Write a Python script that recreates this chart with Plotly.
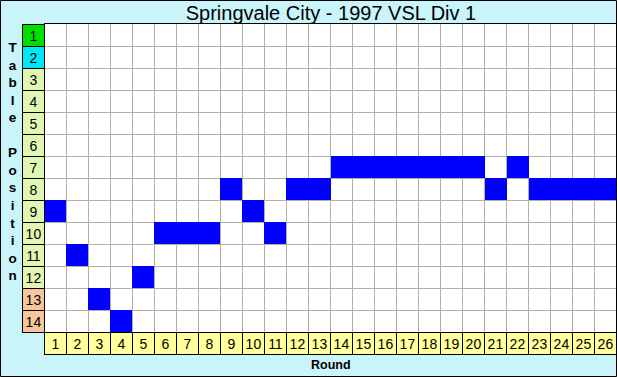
import numpy as np
import plotly.graph_objects as go

# ---- data ----
rounds = list(range(1, 27))
positions = [9, 11, 13, 14, 12, 10, 10, 10, 8, 9, 10, 8, 8, 7, 7, 7, 7, 7, 7, 7, 8, 7, 8, 8, 8, 8]
table_positions = list(range(1, 15))
position_colors = ["#00e000", "#00e8f8"] + ["#e2f6b4"] * 10 + ["#f8c49a"] * 2
round_label_color = "#ffff9c"
title_text = "Springvale City - 1997 VSL Div 1"
y_title = "Table Position"
x_title = "Round"

W, H = 617, 377
ML, MR, MT, MB = 44, 0, 24, 45
PW, PH = W - ML - MR, H - MT - MB
BG = "#c8f4fa"
FONT = "Arial, Liberation Sans, sans-serif"

# matrix of occupied cells
z = np.full((len(table_positions), len(rounds)), np.nan)
for ci, p in enumerate(positions):
    z[table_positions.index(p), ci] = 1

fig = go.Figure()
fig.add_trace(go.Heatmap(
    x=rounds, y=table_positions, z=z,
    colorscale=[[0, "#0000ff"], [1, "#0000ff"]],
    showscale=False, hoverinfo="skip",
))

annotations = []
for p, col in zip(table_positions, position_colors):
    annotations.append(dict(
        xref="paper", yref="y", x=-11 / PW, y=p,
        xanchor="center", yanchor="middle",
        text=str(p), showarrow=False,
        font=dict(family=FONT, size=14, color="black"),
        bgcolor=col, bordercolor="black", borderwidth=1, borderpad=0,
        width=21, height=21,
    ))
for r in rounds:
    annotations.append(dict(
        xref="x", yref="paper", x=r, y=-11 / PH,
        xanchor="center", yanchor="middle",
        text=str(r), showarrow=False,
        font=dict(family=FONT, size=14, color="black"),
        bgcolor=round_label_color, bordercolor="black", borderwidth=1, borderpad=0,
        width=21, height=21,
    ))
annotations.append(dict(
    xref="paper", yref="paper", x=(12 - ML) / PW, y=(H - MB - 161.5) / PH,
    xanchor="center", yanchor="middle", showarrow=False,
    text="<br>".join("<b>%s</b>" % c if c != " " else " " for c in y_title),
    font=dict(family=FONT, size=13.5, color="black"),
))
annotations.append(dict(
    xref="paper", yref="paper", x=(331 - ML) / PW, y=-(365 - (H - MB)) / PH,
    xanchor="center", yanchor="middle", showarrow=False,
    text="<b>%s</b>" % x_title,
    font=dict(family=FONT, size=12.5, color="black"),
))

shapes = [
    # top border line of grid
    dict(type="line", xref="paper", yref="paper", x0=0, x1=1, y0=1 + 0.5 / PH, y1=1 + 0.5 / PH,
         line=dict(color="black", width=1)),
    # outer frame
    dict(type="rect", xref="paper", yref="paper",
         x0=-(ML - 0.5) / PW, x1=1 - 0.5 / PW, y0=-(MB - 0.5) / PH, y1=1 + (MT - 0.5) / PH,
         line=dict(color="black", width=1)),
]

grid = "#b4b0a0"
fig.update_layout(
    width=W, height=H,
    margin=dict(l=ML, r=MR, t=MT, b=MB, pad=0),
    paper_bgcolor=BG, plot_bgcolor="white",
    title=dict(text=title_text, x=(331) / W, xanchor="center", y=1 - 13 / H, yanchor="middle",
               yref="container", xref="container",
               font=dict(family=FONT, size=20, color="black")),
    xaxis=dict(range=[0.5, 26.5], tickvals=[r + 0.5 for r in rounds], showticklabels=False,
               showgrid=True, gridcolor=grid, gridwidth=1, zeroline=False, ticks="",
               showline=False, fixedrange=True),
    yaxis=dict(range=[14.5, 0.5], tickvals=[p + 0.5 for p in table_positions], showticklabels=False,
               showgrid=True, gridcolor=grid, gridwidth=1, zeroline=False, ticks="",
               showline=False, fixedrange=True),
    annotations=annotations, shapes=shapes, showlegend=False,
)

fig.write_html("out.html", config={"displayModeBar": False},
               post_script="document.body.style.margin='0';document.body.style.overflow='hidden';")
